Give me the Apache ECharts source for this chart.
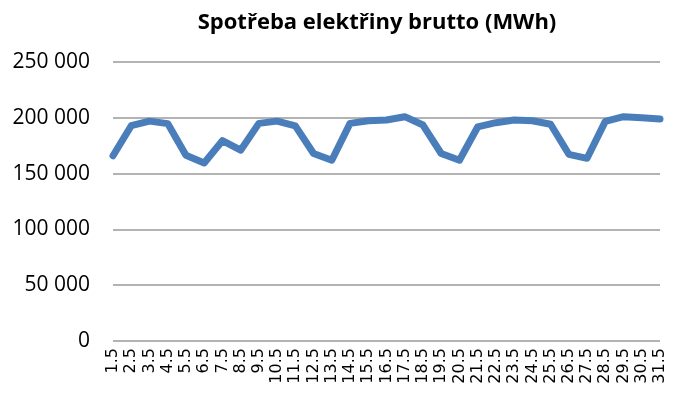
<!DOCTYPE html>
<html>
<head>
<meta charset="utf-8">
<script src="https://cdn.jsdelivr.net/npm/echarts@6/dist/echarts.min.js"></script>
<style>
  html, body { margin: 0; padding: 0; background: #fff; }
  #chart { width: 675px; height: 396px; }
</style>
</head>
<body>
<div id="chart"></div>
<script>
// Daily gross electricity consumption, May (MWh)
const days = ['1.5','2.5','3.5','4.5','5.5','6.5','7.5','8.5','9.5','10.5',
  '11.5','12.5','13.5','14.5','15.5','16.5','17.5','18.5','19.5','20.5',
  '21.5','22.5','23.5','24.5','25.5','26.5','27.5','28.5','29.5','30.5','31.5'];
const consumption = [166000, 192900, 197000, 194800, 166500, 159500, 179500, 171000, 195000, 197000,
  192800, 168000, 162000, 195000, 197400, 198000, 201000, 193500, 168000, 162000,
  191800, 195600, 198000, 197400, 194200, 167300, 163700, 196800, 201000, 200000, 199000];
const yTicks = [0, 50000, 100000, 150000, 200000, 250000];

// thousands separated by a space
const fmt = v => String(v).replace(/\B(?=(\d{3})+(?!\d))/g, ' ');

const chart = echarts.init(document.getElementById('chart'), null, { renderer: 'canvas' });
chart.setOption({
  animation: false,
  backgroundColor: '#ffffff',
  title: {
    text: 'Spotřeba elektřiny brutto (MWh)',
    left: 372, top: 7, textAlign: 'center',
    textStyle: { fontFamily: 'Open Sans', fontWeight: 'bold', fontSize: 22, color: '#000' }
  },
  grid: { left: 113, right: 15, top: 62, bottom: 55, containLabel: false },
  xAxis: {
    type: 'category',
    data: days,
    boundaryGap: false,
    axisLine: { show: false },
    axisTick: { show: false },
    axisLabel: {
      rotate: 90, interval: 0, margin: 7,
      fontFamily: 'DejaVu Sans', fontSize: 16, color: '#000'
    },
    splitLine: { show: false }
  },
  yAxis: {
    type: 'value',
    min: yTicks[0], max: yTicks[yTicks.length - 1], interval: 50000,
    axisLine: { show: false },
    axisTick: { show: false },
    axisLabel: {
      margin: 23,
      fontFamily: 'Open Sans', fontSize: 21, color: '#000',
      formatter: v => fmt(v)
    },
    splitLine: { lineStyle: { color: '#9a9a9a', width: 1.5 } }
  },
  series: [{
    type: 'line',
    data: consumption,
    showSymbol: false,
    lineStyle: { color: '#4a7ebb', width: 7, cap: 'round', join: 'round' },
    itemStyle: { color: '#4a7ebb' }
  }]
});
</script>
</body>
</html>
